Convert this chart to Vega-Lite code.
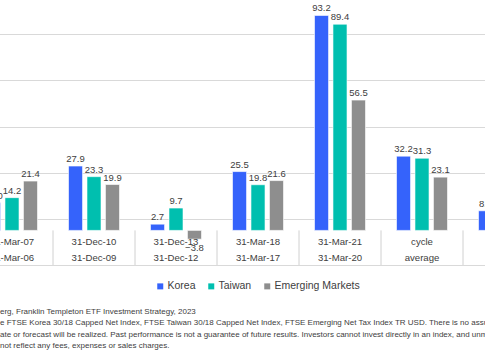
{
  "$schema": "https://vega.github.io/schema/vega-lite/v6.json",
  "autosize": {"type": "none"},
  "padding": {"left": 0, "top": 0, "right": 0, "bottom": 95},
  "width": 485,
  "height": 265,
  "background": "white",
  "config": {
    "view": {"stroke": null},
    "font": "Liberation Sans"
  },
  "title": {
    "text": [
      "erg, Franklin Templeton ETF Investment Strategy, 2023",
      "e FTSE Korea 30/18 Capped Net Index, FTSE Taiwan 30/18 Capped Net Index, FTSE Emerging Net Tax Index TR USD. There is no assurance",
      "ate or forecast will be realized. Past performance is not a guarantee of future results. Investors cannot invest directly in an index, and unmanaged",
      " not reflect any fees, expenses or sales charges."
    ],
    "orient": "bottom",
    "anchor": "start",
    "frame": "group",
    "fontSize": 8,
    "fontWeight": "normal",
    "color": "#404040",
    "lineHeight": 11.4,
    "baseline": "top",
    "offset": 16
  },
  "datasets": {
    "bars": [
      {"period": "P1", "series": "Korea", "value": 12.0},
      {"period": "P1", "series": "Taiwan", "value": 14.2},
      {"period": "P1", "series": "Emerging Markets", "value": 21.4},
      {"period": "P2", "series": "Korea", "value": 27.9},
      {"period": "P2", "series": "Taiwan", "value": 23.3},
      {"period": "P2", "series": "Emerging Markets", "value": 19.9},
      {"period": "P3", "series": "Korea", "value": 2.7},
      {"period": "P3", "series": "Taiwan", "value": 9.7},
      {"period": "P3", "series": "Emerging Markets", "value": -3.8},
      {"period": "P4", "series": "Korea", "value": 25.5},
      {"period": "P4", "series": "Taiwan", "value": 19.8},
      {"period": "P4", "series": "Emerging Markets", "value": 21.6},
      {"period": "P5", "series": "Korea", "value": 93.2},
      {"period": "P5", "series": "Taiwan", "value": 89.4},
      {"period": "P5", "series": "Emerging Markets", "value": 56.5},
      {"period": "P6", "series": "Korea", "value": 32.2},
      {"period": "P6", "series": "Taiwan", "value": 31.3},
      {"period": "P6", "series": "Emerging Markets", "value": 23.1},
      {"period": "P7", "series": "Korea", "value": 8.5}
    ],
    "periods": [
      {"period": "P1", "end": "31-Mar-07", "start": "31-Mar-06"},
      {"period": "P2", "end": "31-Dec-10", "start": "31-Dec-09"},
      {"period": "P3", "end": "31-Dec-13", "start": "31-Dec-12"},
      {"period": "P4", "end": "31-Mar-18", "start": "31-Mar-17"},
      {"period": "P5", "end": "31-Mar-21", "start": "31-Mar-20"},
      {"period": "P6", "end": "cycle", "start": "average"},
      {"period": "P7", "end": "", "start": ""}
    ]
  },
  "encoding": {
    "x": {
      "field": "period",
      "type": "nominal",
      "scale": {"domain": ["P1", "P2", "P3", "P4", "P5", "P6", "P7"], "range": [-29, 545], "paddingInner": 0, "paddingOuter": 0},
      "axis": null
    }
  },
  "layer": [
    {
      "data": {"name": "bars"},
      "mark": {"type": "bar", "stroke": "white", "strokeWidth": 0.6},
      "encoding": {
        "xOffset": {
          "field": "series",
          "type": "nominal",
          "scale": {"domain": ["Korea", "Taiwan", "Emerging Markets"], "paddingInner": 0.24, "paddingOuter": 0.84}
        },
        "y": {
          "field": "value",
          "type": "quantitative",
          "scale": {"domain": [-15, 99.9], "nice": false, "zero": false},
          "axis": {
            "values": [-15, 5, 25, 45, 65, 85],
            "grid": true,
            "gridColor": "#d9d9d9",
            "gridWidth": 1,
            "labels": false,
            "ticks": false,
            "domain": false,
            "title": null
          }
        },
        "color": {
          "field": "series",
          "type": "nominal",
          "scale": {"domain": ["Korea", "Taiwan", "Emerging Markets"], "range": ["#3563FB", "#00BFAF", "#8E8E8E"]},
          "legend": {
            "title": null,
            "orient": "none",
            "direction": "horizontal",
            "legendX": 155,
            "legendY": 281,
            "padding": 0,
            "symbolType": "square",
            "symbolSize": 36,
            "symbolStrokeWidth": 0,
            "labelFontSize": 10.5,
            "labelColor": "#404040",
            "labelOffset": 2,
            "columnPadding": 10
          }
        }
      }
    },
    {
      "data": {"name": "periods"},
      "mark": {"type": "rule", "color": "#d0d0d0", "strokeWidth": 1},
      "encoding": {
        "x": {"field": "period", "type": "nominal", "bandPosition": 0},
        "y": {"datum": 0},
        "y2": {"datum": -15}
      }
    },
    {
      "data": {"name": "periods"},
      "mark": {"type": "rule", "color": "#d0d0d0", "strokeWidth": 1},
      "encoding": {
        "y": {"datum": 0}
      }
    },
    {
      "data": {"name": "bars"},
      "transform": [{"filter": "datum.value >= 0"}],
      "mark": {"type": "text", "fontSize": 9.5, "color": "#404040", "baseline": "alphabetic", "dy": -4},
      "encoding": {
        "xOffset": {"field": "series", "type": "nominal", "scale": {"domain": ["Korea", "Taiwan", "Emerging Markets"], "paddingInner": 0.24, "paddingOuter": 0.84}},
        "y": {"field": "value", "type": "quantitative"},
        "text": {"field": "value", "type": "quantitative", "format": ".1f"}
      }
    },
    {
      "data": {"name": "bars"},
      "transform": [{"filter": "datum.value < 0"}],
      "mark": {"type": "text", "fontSize": 9.5, "color": "#404040", "baseline": "top", "dy": 4},
      "encoding": {
        "xOffset": {"field": "series", "type": "nominal", "scale": {"domain": ["Korea", "Taiwan", "Emerging Markets"], "paddingInner": 0.24, "paddingOuter": 0.84}},
        "y": {"field": "value", "type": "quantitative"},
        "text": {"field": "value", "type": "quantitative", "format": ".1f"}
      }
    },
    {
      "data": {"name": "periods"},
      "mark": {"type": "text", "fontSize": 9.6, "color": "#404040", "baseline": "middle"},
      "encoding": {
        "y": {"datum": -4.9},
        "text": {"field": "end"}
      }
    },
    {
      "data": {"name": "periods"},
      "mark": {"type": "text", "fontSize": 9.6, "color": "#404040", "baseline": "middle"},
      "encoding": {
        "y": {"datum": -12},
        "text": {"field": "start"}
      }
    }
  ]
}
